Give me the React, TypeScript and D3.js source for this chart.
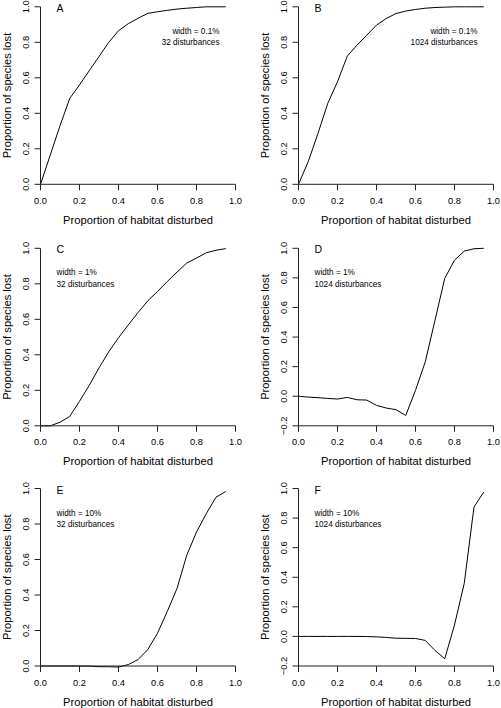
import React from "react";
import * as d3 from "d3";

const disturbed = [0, 0.05, 0.1, 0.15, 0.2, 0.25, 0.3, 0.35, 0.4, 0.45, 0.5, 0.55, 0.6, 0.65, 0.7, 0.75, 0.8, 0.85, 0.9, 0.95];
const lostA = [0, 0.165, 0.33, 0.484, 0.56, 0.64, 0.72, 0.8, 0.865, 0.905, 0.935, 0.963, 0.972, 0.98, 0.987, 0.992, 0.996, 1, 1, 1];
const lostB = [0, 0.128, 0.287, 0.456, 0.578, 0.722, 0.784, 0.84, 0.897, 0.934, 0.962, 0.976, 0.985, 0.992, 0.996, 0.998, 1, 1, 1, 1];
const lostC = [0, 0, 0.02, 0.053, 0.138, 0.228, 0.326, 0.417, 0.496, 0.568, 0.638, 0.704, 0.757, 0.813, 0.866, 0.917, 0.945, 0.975, 0.989, 0.998];
const lostD = [0, -0.006, -0.01, -0.015, -0.019, -0.008, -0.024, -0.026, -0.062, -0.08, -0.091, -0.13, 0.04, 0.232, 0.514, 0.797, 0.92, 0.981, 0.997, 1];
const lostE = [0, 0, 0, 0, 0, -0.001, -0.004, -0.004, -0.006, 0.008, 0.036, 0.092, 0.185, 0.307, 0.437, 0.624, 0.755, 0.858, 0.951, 0.983];
const lostF = [0, 0, 0, 0, 0, 0, 0, -0.001, -0.003, -0.007, -0.012, -0.013, -0.014, -0.027, -0.095, -0.151, 0.078, 0.359, 0.875, 0.976];

const panelLetters = ["A", "B", "C", "D", "E", "F"];
const widthLabels = ["width = 0.1%", "width = 0.1%", "width = 1%", "width = 1%", "width = 10%", "width = 10%"];
const countLabels = ["32 disturbances", "1024 disturbances", "32 disturbances", "1024 disturbances", "32 disturbances", "1024 disturbances"];
const series = [lostA, lostB, lostC, lostD, lostE, lostF];
const yMins = [0, 0, 0, -0.2, 0, -0.2];
const xTickValues = [0, 0.2, 0.4, 0.6, 0.8, 1.0];
const xTitle = "Proportion of habitat disturbed";
const yTitle = "Proportion of species lost";

const W = 501;
const H = 708;
const colLeft = [40.5, 298.5];
const rowTop = [6.8, 248.3, 488.5];
const plotW = 195;
const plotH = 177.5;
const font = "'Liberation Sans', Arial, Helvetica, sans-serif";
const fmt = d3.format(".1f");

function Panel({ i }: { i: number }) {
  const left = colLeft[i % 2];
  const top = rowTop[Math.floor(i / 2)];
  const right = left + plotW;
  const bottom = top + plotH;
  const x = d3.scaleLinear().domain([0, 1]).range([left, right]);
  const y = d3.scaleLinear().domain([yMins[i], 1]).range([bottom, top]);
  const yTicks = d3.range(Math.round(yMins[i] * 5), 6).map((k) => k / 5);
  const data = disturbed.map((d, j) => [d, series[i][j]] as [number, number]);
  const line = d3
    .line<[number, number]>()
    .x((d) => x(d[0]))
    .y((d) => y(d[1]));
  const rightAlign = i < 2;
  const annX = rightAlign ? right - 16 : left + 16;
  const anchor = rightAlign ? "end" : "start";
  const axisColor = "#222";
  return (
    <g>
      <path d={line(data) || ""} fill="none" stroke="#000" strokeWidth={1} />
      {/* x axis */}
      <line x1={x(0)} x2={x(1)} y1={bottom} y2={bottom} stroke={axisColor} strokeWidth={1} />
      {xTickValues.map((t) => (
        <g key={"x" + t}>
          <line x1={x(t)} x2={x(t)} y1={bottom} y2={bottom + 6} stroke={axisColor} strokeWidth={1} />
          <text x={x(t)} y={bottom + 19.5} textAnchor="middle" fontSize={9.3} fontFamily={font} fill="#000">
            {fmt(t)}
          </text>
        </g>
      ))}
      {/* y axis */}
      <line x1={left} x2={left} y1={y(yMins[i])} y2={y(1)} stroke={axisColor} strokeWidth={1} />
      {yTicks.map((t) => (
        <g key={"y" + t}>
          <line x1={left - 6} x2={left} y1={y(t)} y2={y(t)} stroke={axisColor} strokeWidth={1} />
          <text
            transform={`translate(${left - 11.5},${y(t)}) rotate(-90)`}
            textAnchor="middle"
            fontSize={9.3}
            fontFamily={font}
            fill="#000"
          >
            {fmt(t)}
          </text>
        </g>
      ))}
      <text x={(left + right) / 2} y={bottom + 39.5} textAnchor="middle" fontSize={11.2} fontFamily={font} fill="#000">
        {xTitle}
      </text>
      <text
        transform={`translate(${left - 30},${(top + bottom) / 2}) rotate(-90)`}
        textAnchor="middle"
        fontSize={11.2}
        fontFamily={font}
        fill="#000"
      >
        {yTitle}
      </text>
      <text x={left + 16} y={top + 5} fontSize={10.5} fontFamily={font} fill="#000">
        {panelLetters[i]}
      </text>
      <text x={annX} y={top + 27} textAnchor={anchor} fontSize={8.2} fontFamily={font} fill="#000">
        {widthLabels[i]}
      </text>
      <text x={annX} y={top + 38.5} textAnchor={anchor} fontSize={8.2} fontFamily={font} fill="#000">
        {countLabels[i]}
      </text>
    </g>
  );
}

export default function App() {
  return (
    <svg
      width={W}
      height={H}
      viewBox={`0 0 ${W} ${H}`}
      style={{ position: "absolute", left: 0, top: 0, display: "block", background: "#fff" }}
    >
      <rect x={0} y={0} width={W} height={H} fill="#fff" />
      {panelLetters.map((_, i) => (
        <Panel key={i} i={i} />
      ))}
    </svg>
  );
}
